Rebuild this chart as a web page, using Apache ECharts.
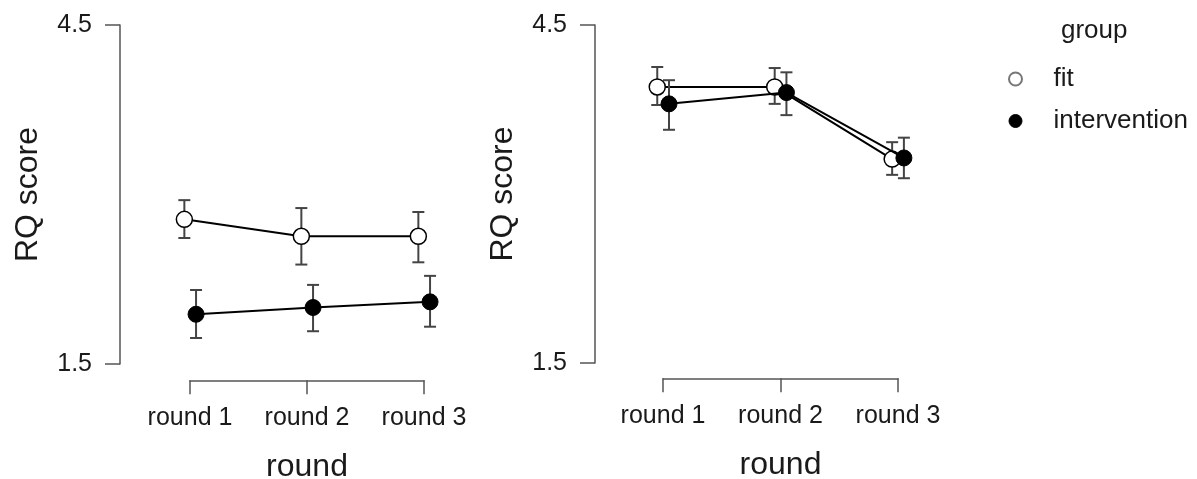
<!DOCTYPE html>
<html>
<head>
<meta charset="utf-8">
<script src="https://cdn.jsdelivr.net/npm/echarts@6/dist/echarts.min.js"></script>
<style>
  html, body { margin: 0; padding: 0; background: #fff; }
  #view { width: 1197px; height: 479px; }
</style>
</head>
<body>
<div id="view"></div>
<script>
// data
const rounds = ["round 1", "round 2", "round 3"];
const yTicks = [1.5, 4.5];

// left panel
const fitLeft = [2.78, 2.63, 2.63];
const fitLeftLow = [2.615, 2.38, 2.40];
const fitLeftHigh = [2.95, 2.88, 2.845];
const intLeft = [1.94, 2.0, 2.05];
const intLeftLow = [1.73, 1.79, 1.83];
const intLeftHigh = [2.155, 2.2, 2.28];

// right panel
const fitRight = [3.95, 3.95, 3.31];
const fitRightLow = [3.79, 3.8, 3.17];
const fitRightHigh = [4.127, 4.118, 3.46];
const intRight = [3.8, 3.9, 3.32];
const intRightLow = [3.57, 3.7, 3.14];
const intRightHigh = [4.01, 4.08, 3.5];

const dodge = 0.05;
const font = "'Liberation Sans', Arial, sans-serif";
const textColor = "#1a1a1a";
const axisColor = "#555";

let myChart = echarts.init(document.getElementById("view"));

function points(vals, off) {
  return vals.map((v, i) => [i + 1 + off, v]);
}
function bars(lo, hi, off) {
  return lo.map((l, i) => [i + 1 + off, l, hi[i]]);
}

function errorBar(params, api) {
  let x = api.value(0);
  let top = api.coord([x, api.value(2)]);
  let bot = api.coord([x, api.value(1)]);
  let w = 6;
  let style = { stroke: "#444", lineWidth: 2 };
  return {
    type: "group",
    children: [
      { type: "line", shape: { x1: top[0], y1: top[1], x2: bot[0], y2: bot[1] }, style: style },
      { type: "line", shape: { x1: top[0] - w, y1: top[1], x2: top[0] + w, y2: top[1] }, style: style },
      { type: "line", shape: { x1: bot[0] - w, y1: bot[1], x2: bot[0] + w, y2: bot[1] }, style: style },
    ],
  };
}

function lineSeries(name, idx, vals, off, filled, z) {
  return {
    name: name,
    type: "line",
    xAxisIndex: idx,
    yAxisIndex: idx,
    data: points(vals, off),
    symbol: "circle",
    symbolSize: 16,
    z: z,
    lineStyle: { color: "#000", width: 2 },
    itemStyle: filled
      ? { color: "#000", borderColor: "#000", borderWidth: 1 }
      : { color: "#fff", borderColor: "#000", borderWidth: 1.5 },
    emphasis: { disabled: true },
  };
}

function barSeries(name, idx, lo, hi, off, z) {
  return {
    name: name,
    type: "custom",
    xAxisIndex: idx,
    yAxisIndex: idx,
    renderItem: errorBar,
    encode: { x: 0, y: [1, 2] },
    data: bars(lo, hi, off),
    z: z,
    silent: true,
  };
}

function yAxis(gridIndex) {
  return {
    gridIndex: gridIndex,
    type: "value",
    min: 1.5,
    max: 4.5,
    name: "RQ score",
    nameLocation: "middle",
    nameGap: 76,
    nameTextStyle: { fontFamily: font, fontSize: 32, color: textColor },
    splitLine: { show: false },
    axisLine: { show: true, lineStyle: { color: axisColor, width: 1.5 } },
    axisTick: { show: true, length: 15, customValues: yTicks, lineStyle: { color: axisColor, width: 1.5 } },
    axisLabel: {
      customValues: yTicks,
      margin: 28,
      fontFamily: font,
      fontSize: 25,
      color: textColor,
      formatter: (v) => v.toFixed(1),
    },
  };
}

function dataX(gridIndex, min) {
  return { gridIndex: gridIndex, type: "value", min: min, max: 3.4, show: false };
}

function roundX(gridIndex) {
  return {
    gridIndex: gridIndex,
    type: "category",
    data: rounds,
    boundaryGap: false,
    name: "round",
    nameLocation: "middle",
    nameGap: 71,
    nameTextStyle: { fontFamily: font, fontSize: 32, color: textColor },
    axisLine: { show: true, lineStyle: { color: axisColor, width: 1.5 } },
    axisTick: { show: true, length: 14, lineStyle: { color: axisColor, width: 1.5 } },
    axisLabel: { margin: 25, fontFamily: font, fontSize: 25, color: textColor },
    splitLine: { show: false },
  };
}

let option = {
  animation: false,
  backgroundColor: "#fff",
  title: {
    text: "group",
    left: 1056,
    top: 13,
    textStyle: { fontFamily: font, fontSize: 26, fontWeight: "normal", color: textColor },
  },
  legend: {
    orient: "vertical",
    left: 1003,
    top: 61,
    itemWidth: 66,
    itemHeight: 13,
    itemGap: 16,
    textStyle: { fontFamily: font, fontSize: 26, color: textColor },
    data: [
      { name: "fit", icon: "circle", itemStyle: { color: "#fff", borderColor: "#777", borderWidth: 2 } },
      { name: "intervention", icon: "circle", itemStyle: { color: "#000", borderColor: "#000", borderWidth: 1 } },
    ],
  },
  grid: [
    { left: 120, top: 25, width: 351, height: 339 },
    { left: 595, top: 25, width: 350, height: 338 },
    { left: 190, top: 380, width: 234, height: 1 },
    { left: 663, top: 378, width: 235, height: 1 },
  ],
  xAxis: [dataX(0, 0.4), dataX(1, 0.42), roundX(2), roundX(3)],
  yAxis: [
    yAxis(0),
    yAxis(1),
    { gridIndex: 2, type: "value", show: false },
    { gridIndex: 3, type: "value", show: false },
  ],
  series: [
    barSeries("fit", 0, fitLeftLow, fitLeftHigh, -dodge, 2),
    lineSeries("fit", 0, fitLeft, -dodge, false, 3),
    barSeries("intervention", 0, intLeftLow, intLeftHigh, dodge, 4),
    lineSeries("intervention", 0, intLeft, dodge, true, 5),
    barSeries("fit", 1, fitRightLow, fitRightHigh, -dodge, 2),
    lineSeries("fit", 1, fitRight, -dodge, false, 3),
    barSeries("intervention", 1, intRightLow, intRightHigh, dodge, 4),
    lineSeries("intervention", 1, intRight, dodge, true, 5),
  ],
};
myChart.setOption(option);
</script>
</body>
</html>
